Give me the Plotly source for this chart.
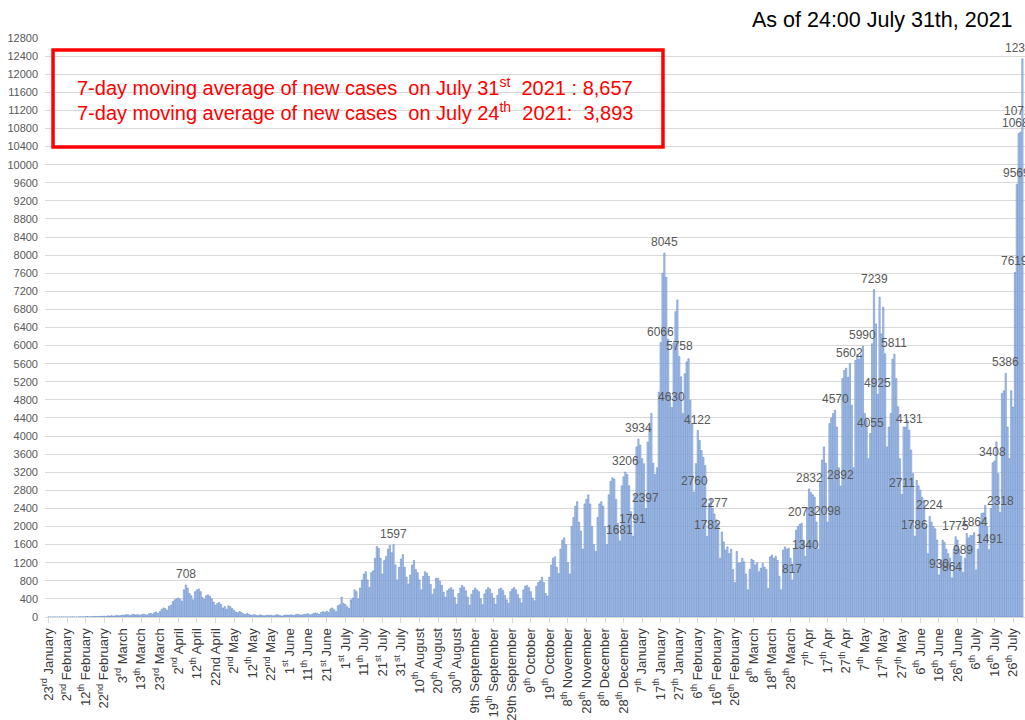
import plotly.graph_objects as go

# ---------------- data ----------------
new_cases = [
    1, 0, 0, 2, 1, 0, 1, 3, 0, 2,
    1, 0, 3, 4, 0, 1, 2, 6, 4, 3,
    8, 12, 6, 5, 10, 15, 9, 12, 18, 14,
    20, 16, 25, 22, 30, 18, 26, 35, 28, 33,
    42, 38, 55, 47, 35, 52, 60, 44, 58, 40,
    48, 63, 55, 39, 70, 85, 62, 95, 110, 78,
    120, 165, 200, 185, 150, 240, 260, 340, 380, 400,
    420, 390, 350, 600, 708, 640, 520, 470, 380, 560,
    600, 620, 560, 430, 390, 470, 490, 460, 400, 330,
    260, 300, 320, 280, 200, 230, 170, 250, 230, 190,
    150, 110, 95, 120, 100, 70, 55, 80, 60, 45,
    40, 55, 35, 30, 48, 38, 25, 33, 42, 36,
    40, 28, 35, 52, 45, 30, 22, 38, 46, 41,
    44, 50, 35, 48, 62, 55, 40, 52, 58, 64,
    72, 48, 60, 82, 90, 76, 55, 100, 118, 105,
    130, 100, 180, 200, 160, 120, 250, 270, 440, 300,
    280, 230, 190, 380, 420, 600, 560, 400, 640, 820,
    950, 1000, 820, 650, 980, 1020, 1300, 1560, 1520, 1300,
    950, 1250, 1340, 1500, 1580, 1420, 1597, 1150, 820, 1100,
    1280, 1380, 1100, 880, 730, 930, 1150, 1250, 1050, 980,
    820, 600, 900, 1000, 970, 900, 720, 500, 620, 860,
    850, 790, 700, 550, 440, 580, 620, 650, 600, 430,
    280, 520, 640, 700, 660, 580, 440, 260, 500, 590,
    640, 600, 560, 400, 270, 510, 600, 650, 620, 520,
    420, 280, 480, 620, 640, 590, 480, 380, 300, 560,
    620, 650, 600, 500, 400, 310, 600, 680, 700, 650,
    560, 420, 360, 680, 760, 800, 880, 760, 520, 460,
    880, 1150, 1300, 1330, 1100, 960, 1500, 1700, 1750, 1600,
    1200, 950, 2000, 2200, 2450, 2550, 2100, 1900, 1500, 2500,
    2600, 2700, 2500, 2000, 1600, 1450, 2200, 2500, 2550, 2450,
    2000, 1600, 2700, 3000, 3080, 3050, 2600, 2070, 1681, 2900,
    3100, 3206, 3150, 2900, 2330, 1791, 2700, 3760, 3934, 3800,
    3500, 3390, 2397, 3870, 4200, 4500, 3400, 3150, 3300, 4970,
    6066, 7600, 8045, 7510, 6140, 4935, 4630, 6060, 6750, 7010,
    5758, 5310, 4500, 5380, 5640, 5710, 4790, 4270, 2760, 3390,
    4122, 3900, 3680, 3530, 3350, 1782, 2510, 2600, 2400, 2277,
    2150, 2070, 1300, 1880, 1660, 1480, 1550, 1400, 1500, 1050,
    760, 1450, 1185, 1200, 1300, 1220, 950, 600, 1050, 1280,
    1250, 1150, 1200, 1000, 1080, 1185, 1100, 1050, 630, 1330,
    1370, 1300, 1340, 1250, 900, 600, 1480, 1550, 1500, 1520,
    1300, 817, 1500, 1920, 2000, 2050, 2073, 1700, 1340, 2400,
    2832, 2750, 2700, 2650, 2100, 1500, 3000, 3470, 3760, 3400,
    2098, 4275, 4400, 4500, 4570, 4200, 3300, 2892, 5270, 5450,
    5500, 5300, 5602, 4680, 3300, 5670, 5800, 5700, 5800, 5990,
    4500, 4350, 3500, 4055, 6040, 7239, 6480, 4925, 7070, 6260,
    6850, 5820, 3760, 4200, 4500, 5700, 5811, 5270, 4650, 3500,
    2711, 4200, 4200, 4350, 4131, 3690, 3170, 1786, 3020, 2900,
    2800, 2650, 2580, 2000, 1400, 2224, 2100, 2000, 1950, 1700,
    930, 1260, 1700, 1650, 1500, 1400, 1300, 864, 1500, 1775,
    1700, 1500, 1350, 989, 1300, 1845, 1750, 1800, 1800, 1864,
    1040, 1500, 2100, 2290, 2300, 2470, 2000, 1491, 2400, 3408,
    3450, 3870, 3170, 2318, 4940, 5000, 5386, 4200, 3500, 5000,
    4640, 7619, 9569, 10687, 10721, 12341,
]

tick_labels = [
    "23<sup>rd</sup> January", "2<sup>nd</sup> February", "12<sup>th</sup> February",
    "22<sup>nd</sup> February", "3<sup>rd</sup> March", "13<sup>th</sup> March",
    "23<sup>rd</sup> March", "2<sup>nd</sup> April", "12<sup>th</sup> April",
    "22nd April", "2<sup>nd</sup> May", "12<sup>th</sup> May", "22<sup>nd</sup> May",
    "1<sup>st</sup> June", "11<sup>th</sup> June", "21<sup>st</sup> June",
    "1<sup>st</sup> July", "11<sup>th</sup> July", "21<sup>st</sup> July",
    "31<sup>st</sup> July", "10<sup>th</sup> August", "20<sup>th</sup> August",
    "30<sup>th</sup> August", "9th September", "19<sup>th</sup> September",
    "29th September", "9<sup>th</sup> October", "19<sup>th</sup> October",
    "8<sup>th</sup> November", "28<sup>th</sup> November", "8<sup>th</sup> December",
    "28<sup>th</sup> December", "7<sup>th</sup> January", "17<sup>th</sup> January",
    "27<sup>th</sup> January", "6<sup>th</sup> February", "16<sup>th</sup> February",
    "26<sup>th</sup> February", "8<sup>th</sup> March", "18<sup>th</sup> March",
    "28<sup>th</sup> March", "7<sup>th</sup> Apr", "17<sup>th</sup> Apr",
    "27<sup>th</sup> Apr", "7<sup>th</sup> May", "17<sup>th</sup> May",
    "27<sup>th</sup> May", "6<sup>th</sup> June", "16<sup>th</sup> June",
    "26<sup>th</sup> June", "6<sup>th</sup> July", "16<sup>th</sup> July",
    "26<sup>th</sup> July",
]
tick_step = 10

labelled_days = [74, 186, 308, 311, 315, 318, 322, 330, 332, 336, 340, 348, 350,
                 355, 359, 401, 406, 408, 410, 420, 424, 427, 432, 439, 443, 445,
                 447, 456, 460, 464, 467, 475, 480, 487, 489, 493, 499, 507, 509,
                 513, 516, 521, 522, 523, 524, 525]

y_ticks = list(range(0, 12801, 400))

box_lines = [
    "7-day moving average of new cases\u00a0\u00a0on July 31<sup>st</sup>\u00a0\u00a02021 : 8,657",
    "7-day moving average of new cases\u00a0\u00a0on July 24<sup>th</sup>\u00a0\u00a02021:\u00a0\u00a03,893",
]
as_of_text = "As of 24:00 July 31th, 2021"

# ---------------- figure ----------------
days = list(range(len(new_cases)))
FONT = "Liberation Sans, Arial, sans-serif"
# extra vertical offset (px) for labels that overlap their neighbour
label_lift = {524: 10, 493: 11, 315: 6}

fig = go.Figure()
fig.add_trace(go.Bar(
    x=days, y=new_cases,
    marker=dict(color="#bdd0ee", line=dict(color="#4a78c2", width=0.5)),
    hoverinfo="skip",
))

annotations = []
for d in labelled_days:
    annotations.append(dict(
        x=d, y=new_cases[d], xref="x", yref="y",
        text=str(new_cases[d]), showarrow=False,
        yanchor="bottom", xanchor="center", yshift=2 + label_lift.get(d, 0),
        font=dict(family=FONT, size=12, color="#595959"),
    ))

# red box text
annotations.append(dict(x=0.031, y=0.9154, xref="paper", yref="paper",
                        text=box_lines[0], showarrow=False, xanchor="left", yanchor="middle",
                        font=dict(family=FONT, size=20, color="#ff0000")))
annotations.append(dict(x=0.031, y=0.8722, xref="paper", yref="paper",
                        text=box_lines[1], showarrow=False, xanchor="left", yanchor="middle",
                        font=dict(family=FONT, size=20, color="#ff0000")))
annotations.append(dict(x=0.9898, y=1.031, xref="paper", yref="paper",
                        text=as_of_text, showarrow=False, xanchor="right", yanchor="middle",
                        font=dict(family=FONT, size=21.5, color="#000000")))

fig.update_layout(
    width=1025, height=720,
    margin=dict(l=45, r=0, t=38, b=103, autoexpand=False),
    paper_bgcolor="white", plot_bgcolor="white",
    showlegend=False, bargap=0.3,
    annotations=annotations,
    shapes=[dict(type="rect", xref="paper", yref="paper",
                 x0=0.0082, x1=0.6306, y0=0.8117, y1=0.9793,
                 line=dict(color="#ff0000", width=3.5), fillcolor="rgba(0,0,0,0)")],
    xaxis=dict(
        range=[-1.9, 526.4],
        tickmode="array",
        tickvals=[i * tick_step for i in range(len(tick_labels))],
        ticktext=tick_labels,
        tickangle=-90,
        ticks="outside", ticklen=5, tickcolor="#d9d9d9",
        tickfont=dict(family=FONT, size=13, color="#3a3a3a"),
        showgrid=False, zeroline=False, automargin=False,
        showline=True, linecolor="#d9d9d9", linewidth=1,
    ),
    yaxis=dict(
        range=[0, 12800],
        tickmode="array", tickvals=y_ticks, ticktext=[str(v) for v in y_ticks],
        tickfont=dict(family=FONT, size=11, color="#595959"),
        showgrid=True, gridcolor="#d9d9d9", gridwidth=1,
        zeroline=False, ticks="", ticklabelstandoff=6, automargin=False,
    ),
)

fig.write_html("out.html", config={"displayModeBar": False},
               post_script="document.body.style.margin='0';document.body.style.overflow='hidden';")
